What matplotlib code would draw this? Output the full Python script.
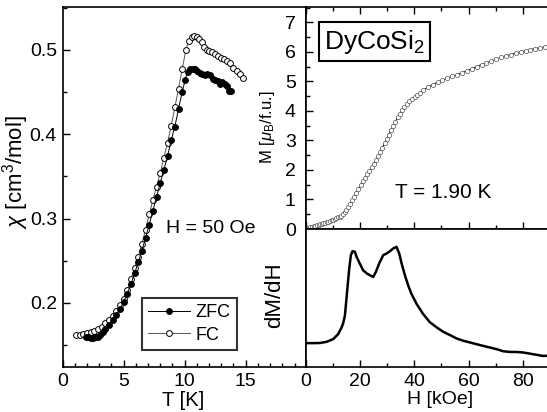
import numpy as np
import matplotlib
matplotlib.use("Agg")
import matplotlib.pyplot as plt
from matplotlib.ticker import MultipleLocator, FormatStrFormatter

plt.rcParams['font.family'] = ['Liberation Sans', 'DejaVu Sans']
plt.rcParams['mathtext.fontset'] = 'custom'
plt.rcParams['mathtext.rm'] = 'Liberation Sans'
plt.rcParams['mathtext.it'] = 'Liberation Sans:italic'
plt.rcParams['mathtext.bf'] = 'Liberation Sans:bold'

# ---------------- data ----------------
T_zfc = [1.9, 2.1, 2.3, 2.5, 2.7, 2.9, 3.1, 3.3, 3.5, 3.8, 4.1, 4.4, 4.7, 5.0, 5.3, 5.6,
         5.9, 6.2, 6.5, 6.8, 7.1, 7.4, 7.7, 8.0, 8.3, 8.6, 8.9, 9.2, 9.5, 9.8, 10.05,
         10.25, 10.45, 10.65, 10.85, 11.05, 11.25, 11.45, 11.65, 11.85, 12.05, 12.3,
         12.5, 12.7, 12.9, 13.1, 13.3, 13.5, 13.65, 13.8]
chi_zfc = [0.160, 0.159, 0.158, 0.158, 0.159, 0.160, 0.162, 0.165, 0.169, 0.174, 0.180,
           0.186, 0.193, 0.201, 0.211, 0.222, 0.235, 0.248, 0.262, 0.277, 0.293, 0.309,
           0.326, 0.342, 0.358, 0.374, 0.393, 0.409, 0.430, 0.450, 0.465, 0.474, 0.477,
           0.478, 0.477, 0.475, 0.473, 0.471, 0.470, 0.472, 0.470, 0.466, 0.464, 0.463,
           0.460, 0.462, 0.460, 0.457, 0.451, 0.451]

T_fc = [1.1, 1.4, 1.7, 2.0, 2.3, 2.6, 2.9, 3.2, 3.5, 3.8, 4.1, 4.4, 4.7, 5.0, 5.3, 5.6,
        5.9, 6.2, 6.5, 6.8, 7.1, 7.4, 7.7, 8.0, 8.3, 8.6, 8.9, 9.2, 9.5, 9.8, 10.1,
        10.35, 10.6, 10.8, 11.0, 11.2, 11.4, 11.6, 11.8, 12.0, 12.25, 12.5, 12.75,
        13.0, 13.25, 13.5, 13.75, 14.0, 14.25, 14.5, 14.75]
chi_fc = [0.162, 0.162, 0.163, 0.164, 0.165, 0.167, 0.169, 0.172, 0.176, 0.180, 0.185,
          0.191, 0.197, 0.205, 0.215, 0.228, 0.241, 0.255, 0.270, 0.287, 0.305, 0.322,
          0.338, 0.354, 0.372, 0.390, 0.410, 0.432, 0.454, 0.477, 0.500, 0.511, 0.516,
          0.517, 0.515, 0.513, 0.510, 0.503, 0.500, 0.499, 0.498, 0.495, 0.493, 0.491,
          0.489, 0.487, 0.484, 0.479, 0.475, 0.471, 0.467]

H_m = [0.0, 0.6, 1.2, 1.8, 2.4, 3.0, 3.6, 4.2, 4.8, 5.4, 6.0, 6.6, 7.2, 7.8, 8.4, 9.0,
       9.6, 10.2, 10.8, 11.4, 12.0, 12.6, 13.2, 13.8, 14.4, 15.0, 15.7, 16.4, 17.1,
       17.9, 18.7, 19.5, 20.3, 21.1, 21.9, 22.7, 23.5, 24.3, 25.1, 25.9, 26.7, 27.5,
       28.3, 29.1, 29.9, 30.7, 31.5, 32.3, 33.1, 33.9, 34.7, 35.5, 36.4, 37.3, 38.2,
       39.2, 40.2, 41.2, 42.2, 43.3, 45.0, 46.8, 48.6, 50.4, 52.2, 54.0, 55.8, 57.6,
       59.4, 61.2, 63.0, 64.8, 66.6, 68.4, 70.2, 72.0, 73.8, 75.6, 77.4, 79.2, 81.0,
       82.8, 84.6, 86.4, 88.2]
M_m = [0.00, 0.02, 0.04, 0.06, 0.08, 0.10, 0.11, 0.13, 0.15, 0.16, 0.18, 0.20, 0.21,
       0.23, 0.25, 0.27, 0.29, 0.31, 0.33, 0.36, 0.39, 0.42, 0.45, 0.50, 0.56, 0.64,
       0.74, 0.86, 0.98, 1.10, 1.23, 1.36, 1.49, 1.61, 1.73, 1.85, 1.97, 2.09, 2.21,
       2.34, 2.47, 2.61, 2.75, 2.90, 3.05, 3.20, 3.35, 3.50, 3.64, 3.78, 3.91, 4.02,
       4.13, 4.23, 4.32, 4.41, 4.46, 4.54, 4.62, 4.70, 4.80, 4.89, 4.97, 5.04, 5.11,
       5.17, 5.23, 5.29, 5.36, 5.43, 5.50, 5.57, 5.63, 5.69, 5.75, 5.81, 5.86, 5.91,
       5.96, 6.00, 6.04, 6.08, 6.11, 6.14, 6.16]

H_d = [0.0, 3.0, 5.3, 7.7, 10.2, 12.0, 13.3, 13.9, 14.5, 15.3, 16.1, 16.7, 17.3, 18.2,
       18.8, 20.0, 21.2, 22.7, 24.3, 24.9, 25.9, 27.1, 28.6, 29.8, 31.1, 32.3, 33.5,
       34.5, 35.4, 36.6, 37.8, 39.0, 40.9, 43.3, 45.8, 48.3, 50.7, 53.2, 55.6, 58.1,
       60.5, 63.0, 65.4, 67.9, 70.4, 72.8, 75.3, 77.7, 80.2, 82.6, 85.1, 87.5, 89.5]
dMdH = [0.173, 0.173, 0.174, 0.182, 0.202, 0.238, 0.287, 0.320, 0.372, 0.543, 0.713,
        0.810, 0.839, 0.835, 0.798, 0.749, 0.701, 0.676, 0.659, 0.652, 0.689, 0.749,
        0.810, 0.822, 0.839, 0.859, 0.871, 0.822, 0.749, 0.664, 0.591, 0.530, 0.457,
        0.384, 0.324, 0.287, 0.255, 0.231, 0.207, 0.190, 0.178, 0.165, 0.153, 0.141,
        0.129, 0.114, 0.109, 0.109, 0.105, 0.097, 0.088, 0.080, 0.082]

# ---------------- figure ----------------
W, Hh = 547, 412
fig = plt.figure(figsize=(W / 100, Hh / 100), dpi=100)

def fx(px):
    return px / W

def fy(py):
    return 1 - py / Hh

xl, xm, xr = 62.5, 305.5, 550.0
yt, ymid, yb = 7.0, 229.0, 367.0

ax1 = fig.add_axes([fx(xl), fy(yb), fx(xm) - fx(xl), fy(yt) - fy(yb)])
ax2 = fig.add_axes([fx(xm), fy(ymid), fx(xr) - fx(xm), fy(yt) - fy(ymid)])
ax3 = fig.add_axes([fx(xm), fy(yb), fx(xr) - fx(xm), fy(ymid) - fy(yb)])

FS = 14
for ax in (ax1, ax2, ax3):
    for s in ax.spines.values():
        s.set_linewidth(1.2)

# ---- left panel ----
ax1.plot(T_fc, chi_fc, '-', color='#555555', lw=0.7, marker='o', ms=4.2,
         mfc='white', mec='black', mew=0.7, label='FC')
ax1.plot(T_zfc, chi_zfc, '-', color='black', lw=0.7, marker='o', ms=4.2,
         mfc='black', mec='black', mew=0.7, label='ZFC')
ax1.set_xlim(0, 19.9)
ax1.set_ylim(0.124, 0.551)
ax1.xaxis.set_major_locator(MultipleLocator(5))
ax1.xaxis.set_minor_locator(MultipleLocator(1))
ax1.yaxis.set_major_locator(MultipleLocator(0.1))
ax1.yaxis.set_minor_locator(MultipleLocator(0.05))
ax1.yaxis.set_major_formatter(FormatStrFormatter('%.1f'))
ax1.tick_params(which='both', direction='in', top=False, right=False, labelsize=FS, width=1.0)
ax1.tick_params(which='major', length=5)
ax1.tick_params(which='minor', length=3)
ax1.tick_params(axis='x', pad=4.5)
ax1.tick_params(axis='y', pad=4)
ax1.set_xlabel('T [K]', fontsize=14.5, va='top')
ax1.xaxis.set_label_coords((183 - xl) / (xm - xl), -(391 - yb) / (yb - yt))
ax1.set_ylabel(r'$\chi$ [cm$^\mathregular{3}$/mol]', fontsize=16)
ax1.yaxis.set_label_coords(-0.128, 1 - (172 - yt) / (yb - yt))
h, l = ax1.get_legend_handles_labels()
leg = ax1.legend([h[1], h[0]], [l[1], l[0]], loc='upper left',
                 bbox_to_anchor=((142 - xl) / (xm - xl), 1 - (298 - yt) / (yb - yt)),
                 fontsize=13, frameon=True, fancybox=False, edgecolor='black',
                 handlelength=2.3, handletextpad=0.3, borderpad=0.35, labelspacing=0.3,
                 borderaxespad=0)
leg.get_frame().set_linewidth(1.5)
ax1.text((211 - xl) / (xm - xl), 1 - (228 - yt) / (yb - yt), 'H = 50 Oe',
         transform=ax1.transAxes, ha='center', va='center', fontsize=14)

# ---- top right panel ----
ax2.plot(H_m, M_m, '-', color='black', lw=0.7, marker='o', ms=3.1,
         mfc='white', mec='#555555', mew=0.5)
ax2.set_xlim(0, 90)
ax2.set_ylim(0, 7.52)
ax2.xaxis.set_major_locator(MultipleLocator(20))
ax2.xaxis.set_minor_locator(MultipleLocator(10))
ax2.yaxis.set_major_locator(MultipleLocator(1))
ax2.yaxis.set_minor_locator(MultipleLocator(0.5))
ax2.tick_params(which='both', direction='in', top=True, bottom=True, right=False,
                labelbottom=False, labelsize=FS, width=1.0)
ax2.tick_params(which='major', length=5)
ax2.tick_params(which='minor', length=3)
ax2.tick_params(axis='y', pad=7)
ax2.set_ylabel(r'M [$\mu_\mathregular{B}$/f.u.]', fontsize=12)
ax2.yaxis.set_label_coords((277 - xm) / (xr - xm), 1 - (127 - yt) / (ymid - yt))
ax2.text((443 - xm) / (xr - xm), 1 - (192.5 - yt) / (ymid - yt), 'T = 1.90 K',
         transform=ax2.transAxes, ha='center', va='center', fontsize=15)
ax2.text((374.5 - xm) / (xr - xm), 1 - (41.5 - yt) / (ymid - yt), r'DyCoSi$_\mathregular{2}$',
         transform=ax2.transAxes, ha='center', va='center', fontsize=19,
         bbox=dict(boxstyle='square,pad=0.2', fc='white', ec='black', lw=1.5))

# ---- bottom right panel ----
ax3.plot(H_d, dMdH, '-', color='black', lw=1.8)
ax3.set_xlim(0, 90)
ax3.set_ylim(0, 1)
ax3.xaxis.set_major_locator(MultipleLocator(20))
ax3.xaxis.set_minor_locator(MultipleLocator(10))
ax3.set_yticks([])
ax3.tick_params(which='both', direction='in', top=False, labelsize=FS, width=1.0)
ax3.tick_params(which='major', length=5)
ax3.tick_params(which='minor', length=3)
ax3.tick_params(axis='x', pad=4.5)
ax3.set_xlabel('H [kOe]', fontsize=14, va='top')
ax3.xaxis.set_label_coords((440 - xm) / (xr - xm), -(391 - yb) / (yb - ymid))
ax3.set_ylabel('dM/dH', fontsize=16)
ax3.yaxis.set_label_coords((285 - xm) / (xr - xm), 1 - (295 - ymid) / (yb - ymid))

fig.savefig('out.png', dpi=100)
